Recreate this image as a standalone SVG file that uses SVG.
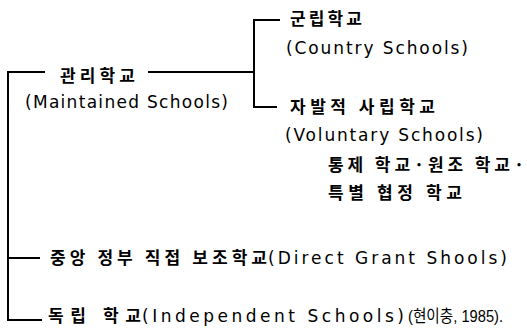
<svg xmlns="http://www.w3.org/2000/svg" width="527" height="335" viewBox="0 0 527 335">
<style>
.ko{font-family:"Noto Sans CJK KR","Noto Sans",sans-serif;font-size:17px;fill:#000;font-weight:bold}
.en{font-family:"DejaVu Sans","Liberation Sans",sans-serif;font-size:17px;fill:#000}
.cite{font-family:"Liberation Sans","Noto Sans CJK KR",sans-serif;font-size:17px;fill:#000}
.ln{fill:none;stroke:#000;stroke-width:2}
</style>
<rect width="527" height="335" fill="#fff"/>
<g id="connectors">
<path class="ln" d="M45,72 H8 V320 H42"/>
<path class="ln" d="M8,258 H40"/>
<path class="ln" d="M148,72 H254"/>
<path class="ln" d="M280,20 H254 V107 H277"/>
</g>
<g id="maintained">
<text class="ko" x="60" y="82" textLength="75" lengthAdjust="spacing">관리학교</text>
<text class="en" x="25" y="108" textLength="203" lengthAdjust="spacing">(Maintained Schools)</text>
</g>
<g id="country">
<text class="ko" x="290" y="25" textLength="72" lengthAdjust="spacing">군립학교</text>
<text class="en" x="286" y="54" textLength="182" lengthAdjust="spacing">(Country Schools)</text>
</g>
<g id="voluntary">
<text class="ko" x="290" y="113" textLength="145" lengthAdjust="spacing">자발적 사립학교</text>
<text class="en" x="285" y="141" textLength="198" lengthAdjust="spacing">(Voluntary Schools)</text>
<text class="ko" x="328" y="171" textLength="196" lengthAdjust="spacing">통제 학교·원조 학교·</text>
<text class="ko" x="328" y="199" textLength="134" lengthAdjust="spacing">특별 협정 학교</text>
</g>
<g id="direct-grant">
<text class="ko" x="50" y="264" textLength="217" lengthAdjust="spacing">중앙 정부 직접 보조학교</text>
<text class="en" x="268" y="264" textLength="239" lengthAdjust="spacing">(Direct Grant Shools)</text>
</g>
<g id="independent">
<text class="ko" x="48" y="322" textLength="93" lengthAdjust="spacing">독립 학교</text>
<text class="en" x="142" y="322" textLength="262" lengthAdjust="spacing">(Independent Schools)</text>
<text class="cite" x="408" y="322" textLength="95" lengthAdjust="spacingAndGlyphs">(현이충, 1985).</text>
</g>
</svg>
